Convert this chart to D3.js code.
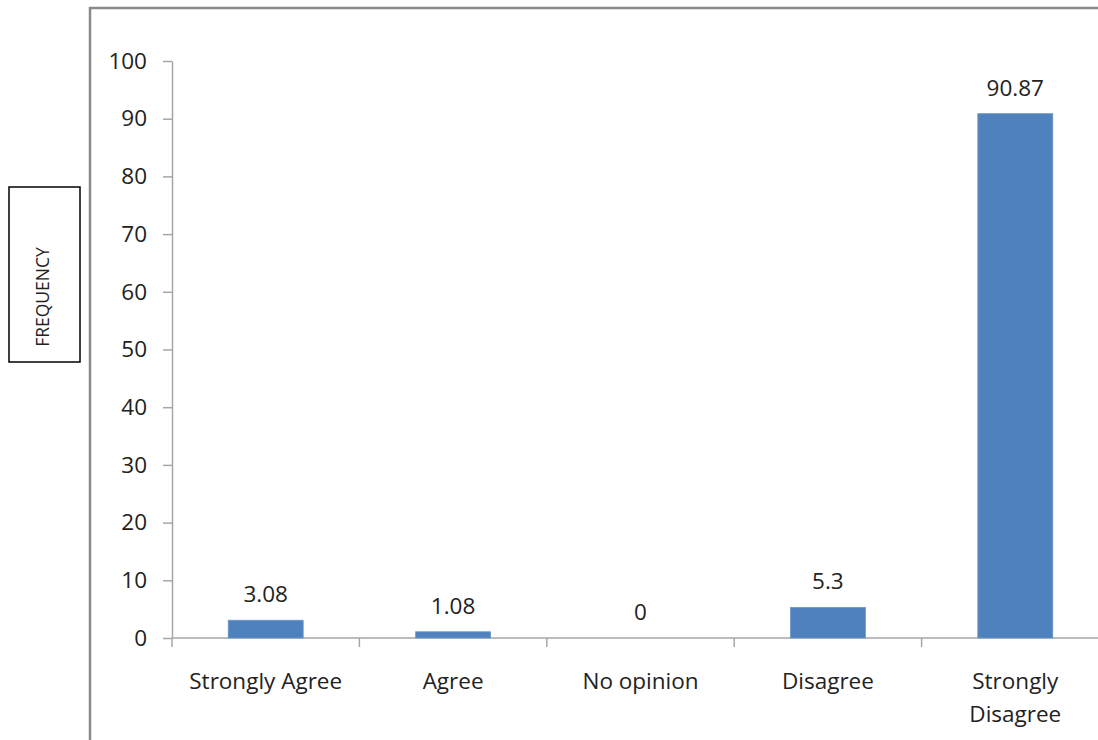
<!DOCTYPE html>
<html>
<head>
<meta charset="utf-8">
<script src="https://cdn.jsdelivr.net/npm/d3@7/dist/d3.min.js"></script>
<style>
  html, body { margin: 0; padding: 0; background: #fff; }
  svg { display: block; }
  text { font-family: "Open Sans", "Noto Sans", sans-serif; fill: #222; }
</style>
</head>
<body>
<svg id="chart" width="1098" height="740"></svg>
<script>
// Survey responses (percentage of respondents)
const categories = ["Strongly Agree", "Agree", "No opinion", "Disagree", "Strongly Disagree"];
const values = [3.08, 1.08, 0, 5.3, 90.87];
const valueLabels = ["3.08", "1.08", "0", "5.3", "90.87"];
const yTicks = [0, 10, 20, 30, 40, 50, 60, 70, 80, 90, 100];
const yTitle = "FREQUENCY";

const svg = d3.select("#chart");
const fontSize = 22.5;

// Outer chart frame (top and left edges)
svg.append("path")
  .attr("d", "M90,741 L90,8 L1100,8")
  .attr("fill", "none")
  .attr("stroke", "#8a8a8a")
  .attr("stroke-width", 2.5);

const plot = { left: 172, right: 1109, top: 61, bottom: 638 };

const x = d3.scaleBand()
  .domain(categories)
  .range([plot.left, plot.right])
  .paddingInner(0.6)
  .paddingOuter(0.3);

const y = d3.scaleLinear()
  .domain([0, 100])
  .range([plot.bottom, plot.top]);

// Y axis
const yAxis = svg.append("g")
  .attr("transform", `translate(${plot.left},0)`)
  .call(d3.axisLeft(y).tickValues(yTicks).tickSize(9).tickSizeOuter(0).tickPadding(16));
yAxis.select(".domain").attr("stroke", "#a6a6a6").attr("stroke-width", 1.5);
yAxis.selectAll(".tick line").attr("stroke", "#a6a6a6").attr("stroke-width", 1.5);
yAxis.selectAll(".tick text")
  .attr("font-size", fontSize)
  .attr("font-family", "\"Open Sans\", sans-serif")
  .attr("fill", "#222");

// X axis baseline and category dividers
const step = x.step();
svg.append("line")
  .attr("x1", plot.left).attr("x2", plot.right)
  .attr("y1", y(0)).attr("y2", y(0))
  .attr("stroke", "#a6a6a6").attr("stroke-width", 1.5);
svg.selectAll(".divider")
  .data(d3.range(categories.length + 1))
  .join("line")
  .attr("class", "divider")
  .attr("x1", i => plot.left + i * step)
  .attr("x2", i => plot.left + i * step)
  .attr("y1", y(0)).attr("y2", y(0) + 9)
  .attr("stroke", "#a6a6a6").attr("stroke-width", 1.5);

// Bars
svg.selectAll(".bar")
  .data(categories)
  .join("rect")
  .attr("class", "bar")
  .attr("x", d => x(d))
  .attr("width", x.bandwidth())
  .attr("y", (d, i) => y(values[i]))
  .attr("height", (d, i) => y(0) - y(values[i]))
  .attr("fill", "#4f81bd")
  .attr("stroke", "#6b97cc")
  .attr("stroke-width", 0.8);

// Value labels
svg.selectAll(".val")
  .data(categories)
  .join("text")
  .attr("class", "val")
  .attr("x", d => x(d) + x.bandwidth() / 2)
  .attr("y", (d, i) => y(values[i]) - 18)
  .attr("text-anchor", "middle")
  .attr("font-size", fontSize)
  .text((d, i) => valueLabels[i]);

// Category labels, wrapped to fit the band
const lineBreaks = { "Strongly Disagree": ["Strongly", "Disagree"] };
svg.selectAll(".cat")
  .data(categories)
  .join("text")
  .attr("class", "cat")
  .attr("x", d => x(d) + x.bandwidth() / 2)
  .attr("y", 689)
  .attr("text-anchor", "middle")
  .attr("font-size", fontSize)
  .each(function (d) {
    const lines = lineBreaks[d] || [d];
    const t = d3.select(this);
    lines.forEach((ln, k) => {
      t.append("tspan")
        .attr("x", x(d) + x.bandwidth() / 2)
        .attr("dy", k === 0 ? 0 : 33)
        .text(ln);
    });
  });

// Y axis title in a box
svg.append("rect")
  .attr("x", 9).attr("y", 187)
  .attr("width", 71).attr("height", 175)
  .attr("fill", "#fff")
  .attr("stroke", "#000")
  .attr("stroke-width", 1.5);
svg.append("text")
  .attr("transform", "translate(49,297) rotate(-90)")
  .attr("text-anchor", "middle")
  .attr("font-size", 17.5)
  .attr("fill", "#000")
  .text(yTitle);
</script>
</body>
</html>
